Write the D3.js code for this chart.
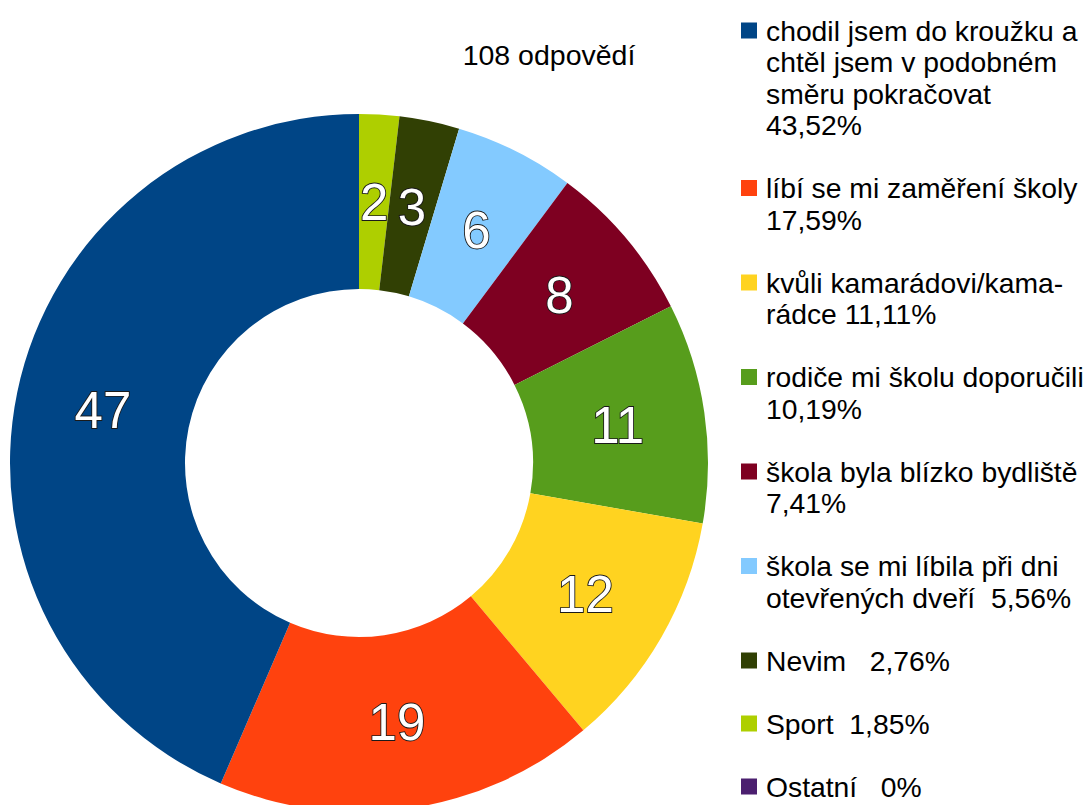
<!DOCTYPE html>
<html>
<head>
  <meta charset='utf-8'>
  <title>108 odpovědí</title>
  <script src="https://cdnjs.cloudflare.com/ajax/libs/d3/7.8.5/d3.min.js"></script>
  <style>
    html, body { margin: 0; padding: 0; background: #fff; }
    svg { display: block; font-family: "Liberation Sans", Arial, sans-serif; }
  </style>
</head>
<body>
<svg id="chart" width="1089" height="805"></svg>
<script>
// legend order
const categories = [
  ["chodil jsem do kroužku a", "chtěl jsem v podobném", "směru pokračovat", "43,52%"],
  ["líbí se mi zaměření školy", "17,59%"],
  ["kvůli kamarádovi/kama-", "rádce 11,11%"],
  ["rodiče mi školu doporučili", "10,19%"],
  ["škola byla blízko bydliště", "7,41%"],
  ["škola se mi líbila při dni", "otevřených dveří  5,56%"],
  ["Nevim   2,76%"],
  ["Sport  1,85%"],
  ["Ostatní   0%"]
];
const counts = [47, 19, 12, 11, 8, 6, 3, 2, 0];
const colors = ["#004586", "#ff420e", "#ffd320", "#579d1c", "#7e0021", "#83caff", "#314004", "#aecf00", "#4b1f6f"];
const title = "108 odpovědí";

const svg = d3.select("#chart");

// donut
const cx = 359, cy = 463, outerR = 349, innerR = 174;
const items = counts.map((v, i) => ({ v, i })).reverse(); // drawn clockwise from top in reverse order

const pie = d3.pie().sort(null).value(d => d.v);
const arc = d3.arc().innerRadius(innerR).outerRadius(outerR);
const arcs = pie(items);

const g = svg.append("g").attr("transform", `translate(${cx},${cy})`);
g.selectAll("path")
  .data(arcs)
  .join("path")
    .attr("d", arc)
    .attr("fill", d => colors[d.data.i]);

g.selectAll("text")
  .data(arcs.filter(d => d.data.v > 0))
  .join("text")
    .attr("transform", d => `translate(${arc.centroid(d)})`)
    .attr("text-anchor", "middle")
    .attr("dy", "0.36em")
    .attr("font-size", 51)
    .attr("fill", "#fff")
    .attr("stroke", "#1a1a1a")
    .attr("stroke-width", 1.8)
    .attr("paint-order", "stroke")
    .text(d => d.data.v);

// title
svg.append("text")
  .attr("x", 549)
  .attr("y", 65)
  .attr("text-anchor", "middle")
  .attr("font-size", 28.5)
  .attr("fill", "#000")
  .text(title);

// legend
const lineH = 31.5;
let line = 0;
const legend = svg.append("g");
categories.forEach((lines, i) => {
  const base = 40.5 + line * lineH;
  legend.append("rect")
    .attr("x", 741).attr("y", base - 18)
    .attr("width", 16).attr("height", 16)
    .attr("fill", colors[i]);
  const t = legend.append("text")
    .attr("x", 766).attr("y", base)
    .attr("font-size", 28.3)
    .attr("fill", "#000")
    .style("white-space", "pre");
  lines.forEach((s, k) => {
    t.append("tspan").attr("x", 766).attr("y", base + k * lineH).text(s);
  });
  line += lines.length + 1;
});
</script>
</body>
</html>
